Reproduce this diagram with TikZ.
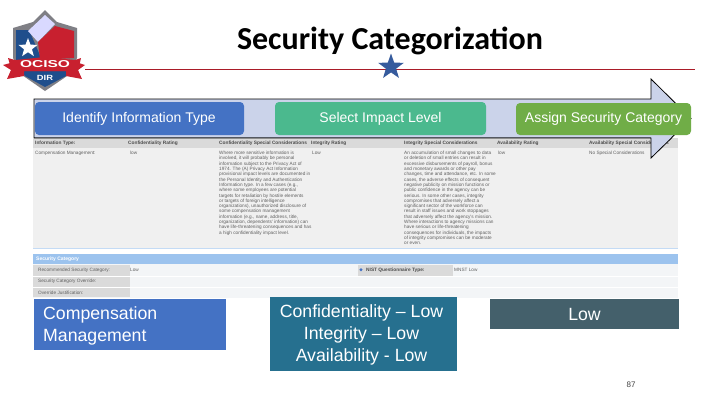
\documentclass[tikz,border=0pt]{standalone}
\usepackage{fontspec}
\setmainfont{Liberation Sans}
\newfontfamily\titlefont{Carlito}
\usetikzlibrary{shapes.geometric}
\definecolor{cblue}{HTML}{4472C4}
\definecolor{cteal}{HTML}{4BB98E}
\definecolor{cgreen}{HTML}{70AD47}
\definecolor{cdeep}{HTML}{26708F}
\definecolor{cslate}{HTML}{44606B}
\definecolor{arrowfill}{HTML}{CBD3EA}
\definecolor{tablebg}{HTML}{F0F0F0}
\definecolor{headgray}{HTML}{DADADA}
\definecolor{sectionblue}{HTML}{9CC3EE}
\definecolor{rowlight}{HTML}{F3F5F7}
\definecolor{shieldred}{HTML}{C8202F}
\definecolor{shieldblue}{HTML}{1F4E8C}
\definecolor{shieldgray}{HTML}{7F7F85}
\definecolor{tabletext}{HTML}{606060}
\tikzset{
  stepbox/.style={rounded corners=4pt,minimum height=33pt,inner sep=0pt,text=white,font=\fontsize{14}{16}\selectfont},
  resultbox/.style={inner sep=0pt,text=white,font=\fontsize{17.7}{22}\selectfont},
  tinytext/.style={inner sep=0pt,anchor=north west,align=left,text=tabletext,font=\fontsize{4.7}{5.3}\selectfont},
  headtext/.style={inner sep=0pt,anchor=west,text=black!70,font=\bfseries\fontsize{4.8}{5.3}\selectfont},
  arrowline/.style={black,line width=0.8pt},
}
\begin{document}
\begin{tikzpicture}[x=1pt,y=-1pt]
\useasboundingbox (0,0) rectangle (720,405);
\fill[white] (0,0) rectangle (720,405);
% title and rule
\draw[shieldred!85!black,line width=0.9pt] (85,69) -- (695,69);
\node[inner sep=0pt,font=\titlefont\bfseries\fontsize{32}{34}\selectfont] (title) at (390,41) {Security Categorization};
\node[star,star points=5,star point ratio=2.5,fill=cblue!80!black,inner sep=0pt,minimum size=27pt] (star) at (391,67) {};
% process arrow
\draw[arrowline,fill=arrowfill] (34,99) -- (651,99) -- (651,79) -- (691,118.5) -- (651,158) -- (651,138) -- (34,138) -- cycle;
% screenshot
\fill[tablebg] (33,138) rectangle (678,248);
\fill[headgray] (33,138) rectangle (678,148);
\fill[sectionblue!60] (33,248) rectangle (678,254);
\fill[white] (33,249) rectangle (678,254);
\fill[sectionblue] (33,254) rectangle (678,264);
\fill[rowlight] (33,264) rectangle (678,298);
\fill[headgray] (33,265) rectangle (130,297);
\fill[white] (33,275.5) rectangle (678,276.2);
\fill[white] (33,287) rectangle (678,287.7);
\fill[headgray] (358,265) rectangle (453,275.5);
\node[headtext] (h1) at (35,143) {Information Type:};
\node[headtext] (h2) at (128,143) {Confidentiality Rating};
\node[headtext] (h3) at (219,143) {Confidentiality Special Considerations};
\node[headtext] (h4) at (311,143) {Integrity Rating};
\node[headtext] (h5) at (404,143) {Integrity Special Considerations};
\node[headtext] (h6) at (497,143) {Availability Rating};
\node[headtext] (h7) at (589,143) {Availability Special Considerations};
\node[tinytext] (c1) at (35,151) {Compensation Management:};
\node[tinytext] (c2) at (130,151) {low};
\node[tinytext] (c3) at (219,151) {Where more sensitive information is\\involved, it will probably be personal\\information subject to the Privacy Act of\\1974. The (A) Privacy Act Information\\provisional impact levels are documented in\\the Personal Identity and Authentication\\Information type. In a few cases (e.g.,\\where some employees are potential\\targets for retaliation by hostile elements\\or targets of foreign intelligence\\organizations), unauthorized disclosure of\\some compensation management\\information (e.g., name, address, title,\\organization, dependents' information) can\\have life-threatening consequences and has\\a high confidentiality impact level.};
\node[tinytext] (c4) at (312,151) {Low};
\node[tinytext] (c5) at (404,151) {An accumulation of small changes to data\\or deletion of small entries can result in\\excessive disbursements of payroll, bonus\\and monetary awards or other pay\\changes, time and attendance, etc. In some\\cases, the adverse effects of consequent\\negative publicity on mission functions or\\public confidence in the agency can be\\serious. In some other cases, integrity\\compromises that adversely affect a\\significant sector of the workforce can\\result in staff issues and work stoppages\\that adversely affect the agency's mission.\\Where interactions to agency missions can\\have serious or life-threatening\\consequences for individuals, the impacts\\of integrity compromises can be moderate\\or even.};
\node[tinytext] (c6) at (498,151) {low};
\node[tinytext] (c7) at (589,151) {No Special Considerations};
\node[inner sep=0pt,anchor=west,text=white,font=\bfseries\fontsize{5}{6}\selectfont] (s1) at (36,259) {Security Category};
\node[tinytext,anchor=west] (s2) at (38,269.8) {Recommended Security Category:};
\node[tinytext,anchor=west] (s3) at (38,281.5) {Security Category Override:};
\node[tinytext,anchor=west] (s4) at (38,292.5) {Override Justification:};
\node[tinytext,anchor=west] (s5) at (130,269.8) {Low};
\node[headtext,anchor=west] (s6) at (366,269.8) {NIST Questionnaire Type:};
\node[tinytext,anchor=west] (s7) at (454,269.8) {MNST Low};
\fill[cblue] (361,269.8) circle (1.6pt);
% arrow parts lying over the screenshot
\fill[arrowfill] (651,137) -- (651,158) -- (672,137) -- cycle;
\draw[arrowline] (34,138) -- (651,138) -- (651,158) -- (672,137.5);
% step boxes
\node[stepbox,fill=cblue,minimum width=209pt] (identify) at (139.5,118.5) {\hspace{-1pt}Identify Information Type};
\node[stepbox,fill=cteal,minimum width=211pt] (select) at (380.5,118.5) {Select Impact Level};
\node[stepbox,fill=cgreen,minimum width=175pt,minimum height=32pt] (assign) at (603.5,119) {Assign Security Category};
% result boxes
\node[resultbox,fill=cblue,minimum width=192pt,minimum height=51pt,anchor=north west] (comp) at (34,299) {};
\node[inner sep=0pt,anchor=west,align=left,text=white,font=\fontsize{17.7}{22}\selectfont] (comptext) at (43,326) {Compensation\\Management};
\node[resultbox,fill=cdeep,minimum width=187pt,minimum height=74pt] (cia) at (363.5,334) {};
\node[inner sep=0pt,align=center,text=white,font=\fontsize{17.7}{22}\selectfont] (ciatext) at (361.5,335) {Confidentiality -- Low\\Integrity -- Low\\Availability  - Low};
\node[resultbox,fill=cslate,minimum width=189pt,minimum height=30pt] (low) at (584.5,314) {Low};
\node[inner sep=0pt,text=black!75,font=\fontsize{8}{10}\selectfont] (page) at (631,385) {87};
% logo
\fill[shieldgray] (45,10) -- (57,22) -- (77,28) -- (77,58) -- (70,74) -- (45,91) -- (22,75) -- (13,58) -- (13,28) -- (33,22) -- cycle;
\fill[shieldblue] (16,30) -- (29,30) -- (42,60) -- (16,60) -- cycle;
\fill[white!85!blue] (28,31) -- (45,15) -- (55,24) -- (38,42) -- cycle;
\fill[shieldred] (38,42) -- (55,26) -- (74,31) -- (74,58) -- (40,60) -- cycle;
\fill[shieldblue] (20,70) -- (70,70) -- (66,76) -- (45,87) -- (25,76) -- cycle;
\node[star,star points=5,star point ratio=2.4,fill=white,inner sep=0pt,minimum size=20pt] (logostar) at (28,48) {};
\fill[shieldred] (3,65) -- (14,62) -- (76,62) -- (85,65) -- (78,70) -- (82,79) -- (66,76) -- (66,71) -- (24,71) -- (24,76) -- (7,79) -- (11,70) -- cycle;
\fill[shieldred] (8,58) -- (15,60) -- (45,57) -- (75,60) -- (81,58) -- (78,71) -- (12,71) -- cycle;
\node[inner sep=0pt,text=white,xscale=1.55,font=\bfseries\fontsize{10}{10}\selectfont] (ociso) at (45,64.5) {OCISO};
\node[inner sep=0pt,text=white,xscale=1.25,font=\bfseries\fontsize{7.5}{8}\selectfont] (dir) at (45,77.5) {DIR};
\end{tikzpicture}
\end{document}
